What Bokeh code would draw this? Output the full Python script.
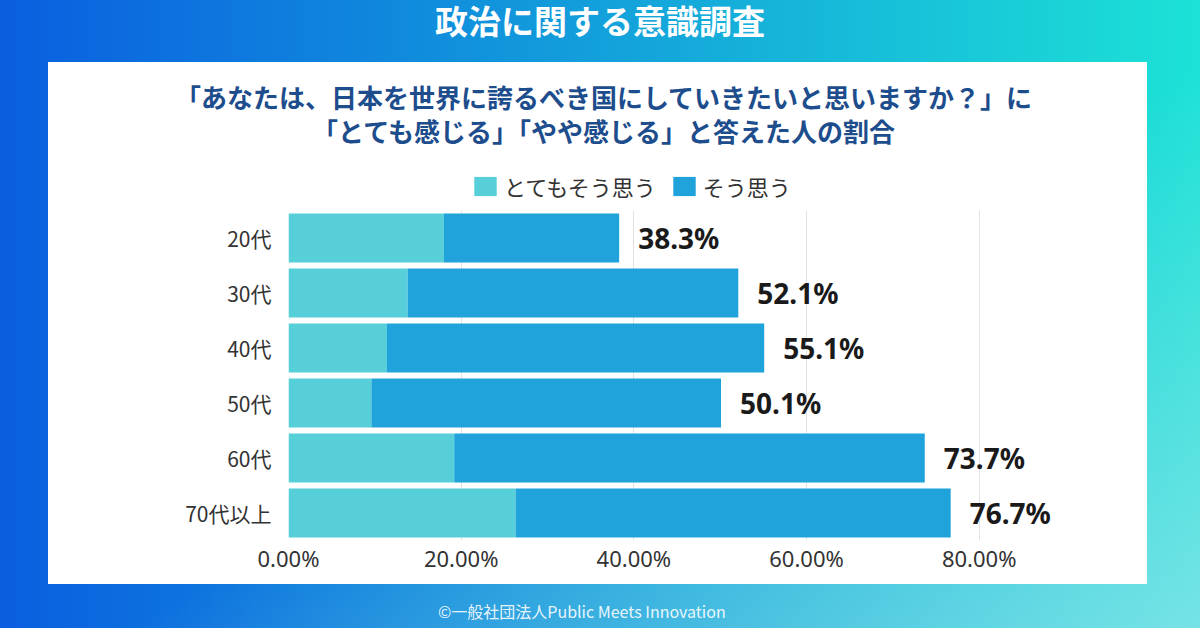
from bokeh.plotting import figure
from bokeh.models import (Range1d, FixedTicker, PrintfTickFormatter,
                          Legend, LegendItem, Div, Spacer, ColumnDataSource)
from bokeh.layouts import column, row
from bokeh.core.properties import value
from bokeh.embed import file_html
from bokeh.resources import INLINE

# ---------------- data ----------------
title_text = "政治に関する意識調査"
subtitle_lines = ["「あなたは、日本を世界に誇るべき国にしていきたいと思いますか？」に",
                  "「とても感じる」「やや感じる」と答えた人の割合"]
categories = ["20代", "30代", "40代", "50代", "60代", "70代以上"]
series_names = ["とてもそう思う", "そう思う"]
very_much = [18.0, 13.8, 11.4, 9.6, 19.2, 26.3]      # とてもそう思う
total = [38.3, 52.1, 55.1, 50.1, 73.7, 76.7]         # 合計（ラベル）
x_ticks = [0, 20, 40, 60, 80]
credit = "©一般社団法人Public Meets Innovation"

somewhat = [round(t - v, 1) for t, v in zip(total, very_much)]   # そう思う
labels = [f"{t:.1f}%" for t in total]
n = len(categories)
ypos = [n - 1 - i for i in range(n)]          # first category on top

LIGHT = "#56cfd9"
DARK = "#1fa3da"
JP = "Noto Sans CJK JP"

src = ColumnDataSource(dict(cat=categories, y=ypos, very=very_much, somewhat=somewhat,
                            total=total, label=labels))

p = figure(width=1099, height=424,
           y_range=Range1d(-0.5, n - 0.5 + 0.873),
           x_range=Range1d(0, 90),
           output_backend="svg", toolbar_location=None,
           min_border_left=240, min_border_right=82,
           min_border_top=2, min_border_bottom=44, margin=0)
p.background_fill_color = "white"
p.border_fill_color = "white"
p.outline_line_color = None

rs = p.hbar_stack(["very", "somewhat"], y="y", height=0.89,
                  color=[LIGHT, DARK], line_color=None, source=src)

p.text(x="total", y="y", text="label", source=src, x_offset=19,
       text_align="left", text_baseline="middle",
       text_font=value("Noto Sans"), text_font_style="bold",
       text_font_size="28px", text_color="#1a1a1a")

# axes
p.xaxis.ticker = FixedTicker(ticks=x_ticks)
p.xaxis.formatter = PrintfTickFormatter(format="%.2f%%")
p.yaxis.ticker = FixedTicker(ticks=ypos)
p.yaxis.major_label_overrides = {y: c for y, c in zip(ypos, categories)}
for ax in (p.xaxis, p.yaxis):
    ax.axis_line_color = None
    ax.major_tick_line_color = None
    ax.minor_tick_line_color = None
    ax.major_label_text_color = "#333333"
    ax.major_label_text_font = JP
p.yaxis.major_label_text_font_size = "21px"
p.xaxis.major_label_text_font_size = "22px"
p.xaxis.major_label_text_font = "Noto Sans"
p.xaxis.major_label_standoff = -4
p.yaxis.major_label_standoff = 11
p.xgrid.grid_line_color = "#e2e2e2"
p.xgrid.ticker = FixedTicker(ticks=x_ticks)
p.xgrid.cross_bounds = (-0.5, n - 0.5)
p.ygrid.grid_line_color = None

legend = Legend(items=[LegendItem(label=series_names[i], renderers=[rs[i]]) for i in range(2)],
                orientation="horizontal", location=(183, 338),
                glyph_width=28, glyph_height=24, label_standoff=5, spacing=14,
                padding=0, margin=0, border_line_color=None,
                background_fill_alpha=0,
                label_text_font=JP, label_text_font_size="22px",
                label_text_color="#333333", label_height=24)
p.add_layout(legend)

# ---------------- surrounding layout ----------------
title_div = Div(width=1200, height=62, margin=0,
                styles={"text-align": "center"},
                text=f'<div style="padding-top:3px;text-align:center;font-family:\'{JP}\';'
                     f'font-weight:bold;font-size:33px;line-height:34px;color:white;">{title_text}</div>')

sub_html = "<br>".join(subtitle_lines)
subtitle_div = Div(width=1099, height=98, margin=0,
                   styles={"background-color": "white"},
                   text=f'<div style="width:1099px;box-sizing:border-box;padding-top:18px;padding-left:12px;'
                        f'text-align:center;font-family:\'{JP}\';font-weight:bold;font-size:26px;'
                        f'line-height:34px;color:#1d4d8c;">{sub_html}</div>')

panel = column(subtitle_div, p, width=1099, height=522, spacing=0, margin=0,
               styles={"background-color": "white"})

mid = row(Spacer(width=48, height=522, margin=0), panel, Spacer(width=53, height=522, margin=0),
          width=1200, height=522, spacing=0, margin=0)

footer_div = Div(width=1200, height=44, margin=0,
                 text=f'<div style="padding-top:19px;padding-left:438px;font-family:\'{JP}\';'
                      f'font-size:16px;line-height:16px;color:rgba(255,255,255,0.9);'
                      f'white-space:nowrap;">{credit}</div>')

root = column(title_div, mid, footer_div, width=1200, height=628, spacing=0, margin=0,
              styles={"background": "linear-gradient(to bottom right, rgba(255,255,255,0) 55%, "
                                    "rgba(190,228,242,0.55) 100%), "
                                    "linear-gradient(90deg, #0a5ee0 0%, #1ce2d6 100%)"})

open("out.html", "w").write(file_html(root, INLINE))
